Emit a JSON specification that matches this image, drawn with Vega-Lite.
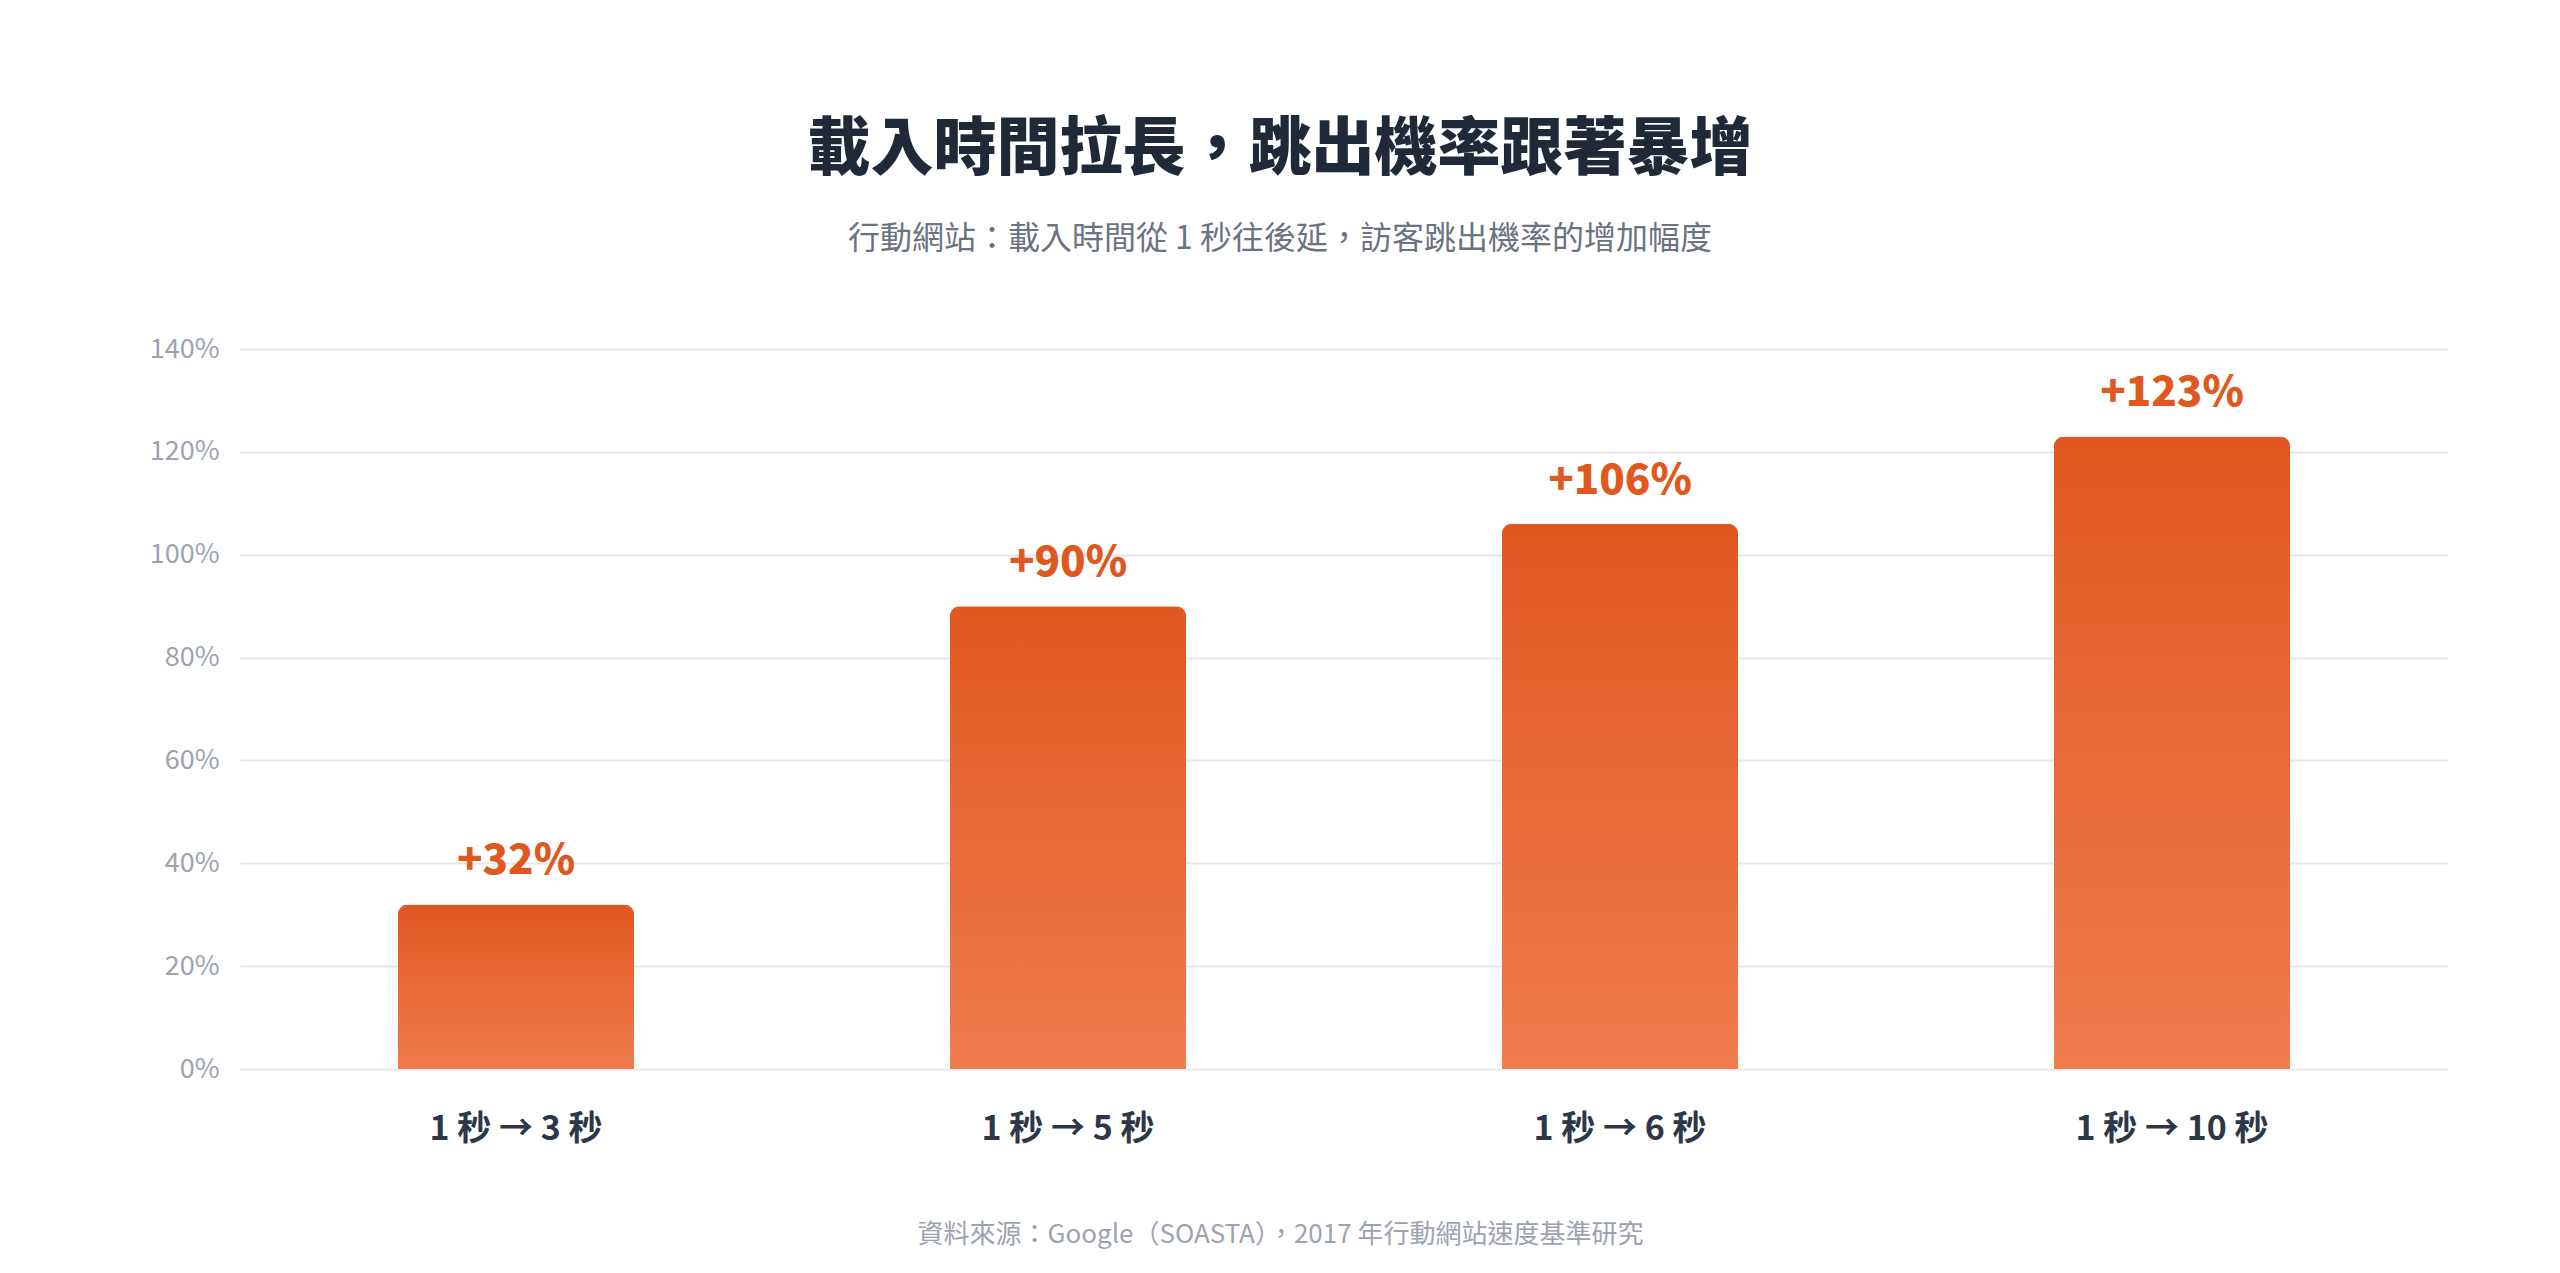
{
  "$schema": "https://vega.github.io/schema/vega-lite/v6.json",
  "width": 2208,
  "height": 720,
  "autosize": {"type": "none"},
  "padding": {"left": 240, "top": 349, "right": 112, "bottom": 204},
  "background": "#ffffff",
  "config": {"view": {"stroke": null}},
  "title": {
    "text": "載入時間拉長，跳出機率跟著暴增",
    "subtitle": "行動網站：載入時間從 1 秒往後延，訪客跳出機率的增加幅度",
    "anchor": "middle",
    "dx": -64,
    "offset": 80,
    "font": "Noto Sans CJK TC",
    "fontSize": 63,
    "fontWeight": 900,
    "color": "#1F2937",
    "subtitleFont": "Noto Sans CJK TC",
    "subtitleFontSize": 32,
    "subtitleColor": "#6B7280",
    "subtitlePadding": 42
  },
  "data": {
    "values": [
      {"range": "1 秒 → 3 秒", "increase": 0.32},
      {"range": "1 秒 → 5 秒", "increase": 0.90},
      {"range": "1 秒 → 6 秒", "increase": 1.06},
      {"range": "1 秒 → 10 秒", "increase": 1.23}
    ]
  },
  "encoding": {
    "x": {
      "field": "range",
      "type": "nominal",
      "sort": null,
      "scale": {"paddingInner": 0, "paddingOuter": 0},
      "axis": {
        "title": "資料來源：Google（SOASTA），2017 年行動網站速度基準研究",
        "titleFont": "Noto Sans CJK TC",
        "titleFontSize": 26,
        "titleFontWeight": "normal",
        "titleColor": "#9CA3AF",
        "titlePadding": 75,
        "titleX": 1040,
        "titleAlign": "center",
        "labelAngle": 0,
        "labelLimit": 500,
        "labelFont": "Noto Sans CJK TC",
        "labelFontSize": 34,
        "labelFontWeight": "bold",
        "labelColor": "#2D3748",
        "labelPadding": 43,
        "ticks": false,
        "domain": false,
        "grid": false
      }
    },
    "y": {
      "field": "increase",
      "type": "quantitative",
      "scale": {"domain": [0, 1.4], "nice": false},
      "axis": {
        "title": null,
        "values": [0, 0.2, 0.4, 0.6, 0.8, 1.0, 1.2, 1.4],
        "format": ".0%",
        "labelFont": "Noto Sans CJK TC",
        "labelFontSize": 27,
        "labelColor": "#9CA3AF",
        "labelPadding": 21,
        "ticks": false,
        "domain": false,
        "grid": true,
        "gridColor": "#E5E7EB",
        "gridWidth": 2
      }
    }
  },
  "layer": [
    {
      "mark": {
        "type": "bar",
        "width": {"band": 0.428},
        "cornerRadiusTopLeft": 10,
        "cornerRadiusTopRight": 10,
        "color": {
          "gradient": "linear",
          "x1": 0, "y1": 0, "x2": 0, "y2": 1,
          "stops": [
            {"offset": 0, "color": "#E05820"},
            {"offset": 1, "color": "#F07B4D"}
          ]
        }
      }
    },
    {
      "mark": {
        "type": "text",
        "baseline": "alphabetic",
        "dy": -30,
        "font": "Noto Sans CJK TC",
        "fontSize": 42,
        "fontWeight": 900,
        "color": "#E05820"
      },
      "encoding": {
        "text": {"field": "increase", "type": "quantitative", "format": "+.0%"}
      }
    }
  ]
}
